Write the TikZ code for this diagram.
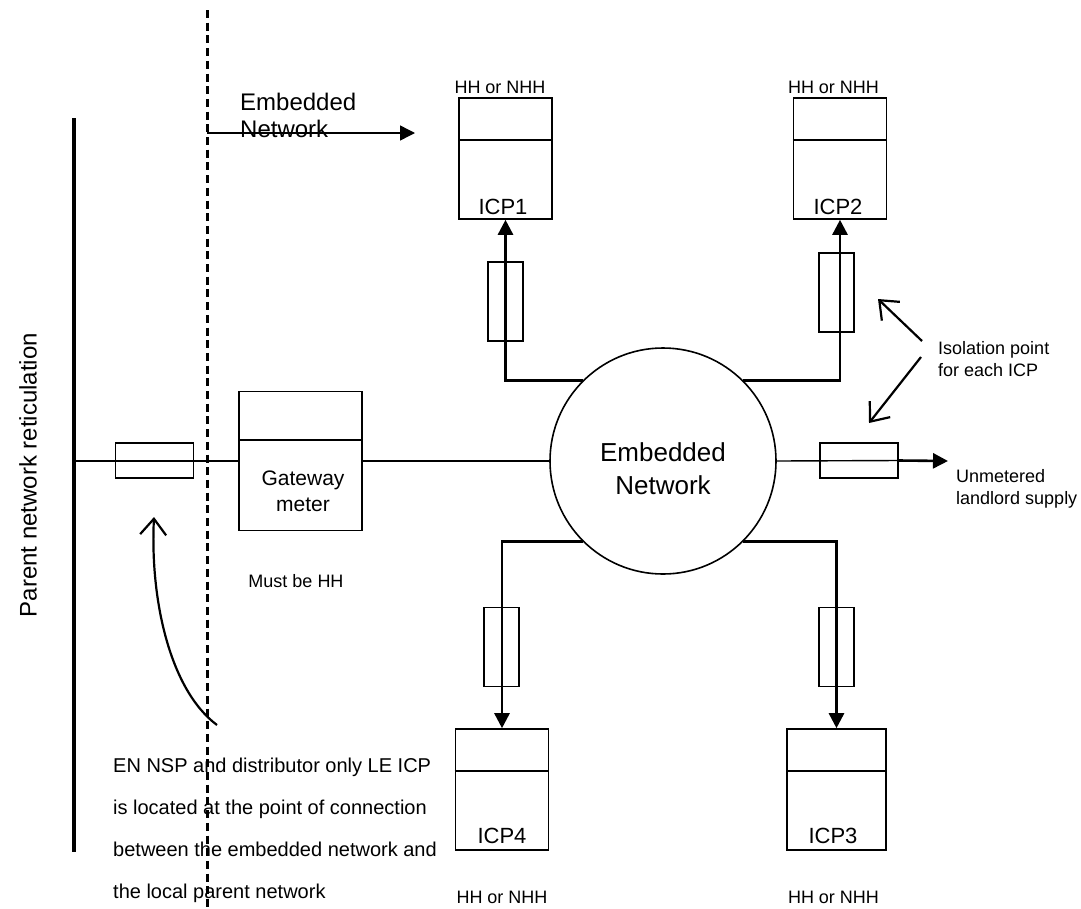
\documentclass[tikz,border=0pt]{standalone}
\usepackage{fontspec}
\setmainfont{Liberation Sans}
\usetikzlibrary{arrows.meta,calc}
\begin{document}
\begin{tikzpicture}[x=1pt,y=-1pt,
  thinline/.style={line width=1.4pt},
  conn/.style={line width=2.6pt},
  boxline/.style={line width=1.6pt},
  meterbox/.style={draw,boxline,minimum width=93pt,minimum height=121pt,inner sep=0pt},
  fusev/.style={draw,boxline,minimum width=35pt,minimum height=79pt,inner sep=0pt},
  fuseh/.style={draw,boxline,minimum width=78pt,minimum height=35pt,inner sep=0pt},
  filltip/.style={-{Triangle[length=15pt,width=15pt]}},
  barbtip/.style={-{Straight Barb[length=16pt,width=26pt]}},
  pointer/.style={line width=2.2pt,barbtip},
  lbl/.style={inner sep=0pt,font=\fontsize{18}{22}\selectfont},
  icplbl/.style={inner sep=0pt,anchor=base,font=\fontsize{22}{26}\selectfont},
  dashline/.style={line width=3pt,dash pattern=on 8pt off 4.7pt},
]
\useasboundingbox (0,0) rectangle (1081,908);

% parent bar and dashed boundary
\draw[line width=4pt] (74,118) coordinate (bartop) -- (74,852) coordinate (barbot);
\coordinate (barmid) at (74,461);
\node[rotate=90,inner sep=0pt,font=\fontsize{24}{28}\selectfont] (parent) at (28,475) {Parent network reticulation};

% embedded network circle
\node[circle,draw,boxline,minimum size=226pt,inner sep=0pt] (en) at (663,461) {};
\node[inner sep=0pt,align=center,font=\fontsize{26}{33}\selectfont] (entext) at (663,469) {Embedded\\Network};

% gateway meter
\node[draw,boxline,minimum width=123pt,minimum height=139pt,inner sep=0pt] (gw) at (300.5,461) {};
\draw[boxline] ($(gw.north west)+(0,49)$) -- ($(gw.north east)+(0,49)$);
\node[inner sep=0pt,align=center,font=\fontsize{21}{26}\selectfont] (gwtext) at (303,491) {Gateway\\meter};
\node[lbl] (must) at (296,581) {Must be HH};

% ICP meters
\node[meterbox] (icp1) at (505.5,158.5) {};
\node[meterbox] (icp2) at (840,158.5) {};
\node[meterbox] (icp4) at (502,789.5) {};
\node[meterbox,minimum width=99pt] (icp3) at (836.5,789.5) {};
\foreach \b in {icp1,icp2,icp4,icp3}{
  \draw[boxline] ($(\b.north west)+(0,43)$) -- ($(\b.north east)+(0,43)$);
}
\node[icplbl] (icp1t) at (503,214) {ICP1};
\node[icplbl] (icp2t) at (838,214) {ICP2};
\node[icplbl] (icp4t) at (502,843) {ICP4};
\node[icplbl] (icp3t) at (833,843) {ICP3};
\node[lbl] (hh1) at (500,87) {HH or NHH};
\node[lbl] (hh2) at (833.5,87) {HH or NHH};
\node[lbl] (hh4) at (502,897) {HH or NHH};
\node[lbl] (hh3) at (833.5,897) {HH or NHH};

% fuses (isolation points)
\node[fusev] (f1) at (505.5,301.5) {};
\node[fusev] (f2) at (836.5,292.5) {};
\node[fusev] (f4) at (501.5,647) {};
\node[fusev] (f3) at (836.5,647) {};
\node[fuseh] (fl) at (154.5,460.5) {};
\node[fuseh] (fr) at (859,460.5) {};

% main line
\draw[thinline] (barmid) -- (gw.west);
\draw[thinline] (gw.east) -- (en.west);
\draw[thinline] (en.east) -- (fr.east);
\coordinate (unmet) at (948,461);
\draw[conn,filltip] (fr.east) -- (unmet);
\node[lbl,anchor=west,align=left] (unmettext) at (956,489) {Unmetered\\landlord supply};

% connectors to ICPs
\draw[conn,filltip] (en.135) -| (icp1.south);
\draw[conn,filltip] (en.45) -| (icp2.south);
\draw[conn,filltip] (en.225) -| (icp4.north);
\draw[conn,filltip] (en.315) -| (icp3.north);

% isolation label and pointers
\node[lbl,anchor=west,align=left] (iso) at (938,359) {Isolation point\\for each ICP};
\coordinate (iso1s) at (922,341);
\coordinate (iso1e) at (878,299);
\coordinate (iso2s) at (921,357);
\coordinate (iso2e) at (869,423);
\draw[pointer] (iso1s) -- (iso1e);
\draw[pointer] (iso2s) -- (iso2e);

% dashed boundary and embedded network arrow
\draw[dashline] (207,10) coordinate (dtop) -- (207,908) coordinate (dbot);
\coordinate (ens) at (207,133);
\coordinate (ene) at (415,133);
\draw[thinline,filltip] (ens) -- (ene);
\node[anchor=north west,align=left,inner sep=0pt,font=\fontsize{24}{27}\selectfont] (entop) at (240,93) {Embedded\\Network};

% curved pointer and note
\coordinate (cs) at (217,725);
\coordinate (ce) at (154,517);
\draw[pointer] (cs) .. controls (170,690) and (150,600) .. (ce);
\node[anchor=north west,align=left,inner sep=0pt,font=\fontsize{20}{42}\selectfont] (note) at (113,758) {EN NSP and distributor only LE ICP\\is located at the point of connection\\between the embedded network and\\the local parent network};
\end{tikzpicture}
\end{document}
